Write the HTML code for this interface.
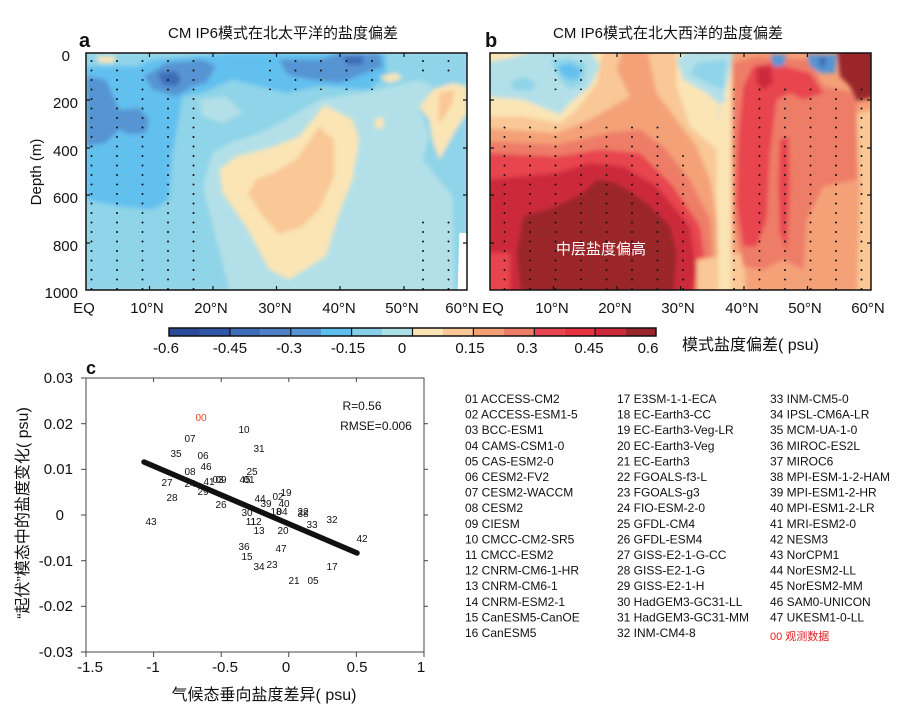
<!DOCTYPE html>
<html><head><meta charset="utf-8"><style>
html,body{margin:0;padding:0;background:#fff}
svg{display:block}
text{font-family:"Liberation Sans","Noto Sans CJK SC",sans-serif;fill:#111}
.t{font-size:15px}
.tk{font-size:15px}
.lg{font-size:12px}
.pt{font-size:10px}
</style></head><body>
<svg width="899" height="720" viewBox="0 0 899 720" xmlns="http://www.w3.org/2000/svg">
<defs>
<filter id="bl" x="-5%" y="-5%" width="110%" height="110%"><feGaussianBlur stdDeviation="6"/></filter>
<clipPath id="ca"><rect x="86" y="53" width="381" height="237"/></clipPath>
<clipPath id="cb"><rect x="490" y="53" width="381" height="237"/></clipPath>
<pattern id="dots" x="0" y="0" width="25.5" height="9.5" patternUnits="userSpaceOnUse">
<circle cx="15" cy="4" r="1" fill="#111"/></pattern>
<pattern id="dotsb" x="5" y="0" width="25.5" height="9.5" patternUnits="userSpaceOnUse">
<circle cx="15" cy="4" r="1" fill="#111"/></pattern>
</defs>

<!-- Panel a -->
<text x="283" y="38" text-anchor="middle" class="t">CM IP6模式在北太平洋的盐度偏差</text>
<text x="79" y="47" style="font-size:20px;font-weight:bold">a</text>
<g clip-path="url(#ca)">
<rect x="86" y="53" width="381" height="237" fill="#b3e0e8"/>
<g transform="translate(86,53) scale(0.33333)">
<g filter="url(#bl)">
<path d="M0,0 L1143,0 L1143,711 L1105,711 L1100,430 L1010,320 L1030,250 L1000,160 L1040,100 L1000,80 L880,110 L700,140 L600,200 L520,240 L430,270 L380,300 L350,400 L430,711 L0,711 Z" fill="#8fd4e8"/>
<path d="M340,140 L420,130 L470,180 L410,210 L350,190 Z" fill="#b3e0e8"/>
<path d="M0,40 L150,40 L200,20 L440,0 L900,0 L900,70 L850,110 L700,100 L600,120 L560,110 L440,80 L350,120 L290,130 L260,300 L250,440 L200,470 L100,460 L0,440 Z" fill="#62c0ef"/>
<path d="M0,70 L60,80 L100,170 L120,170 L160,165 L190,200 L180,240 L130,245 L100,230 L60,270 L0,280 Z" fill="#5794d3"/>
<path d="M175,70 L240,30 L350,20 L390,40 L360,90 L320,100 L270,130 L200,110 Z" fill="#5794d3"/>
<path d="M580,20 L700,20 L760,0 L880,0 L890,40 L840,60 L760,90 L680,80 L620,70 L600,60 Z" fill="#5794d3"/>
<path d="M215,60 L270,55 L285,80 L270,100 L230,95 Z" fill="#3e6cb8"/>
<path d="M770,10 L830,10 L830,35 L785,35 Z" fill="#3e6cb8"/>
<path d="M400,350 L450,310 L550,285 L640,250 L715,155 L800,200 L820,260 L800,380 L760,480 L720,610 L610,680 L550,650 L480,520 L410,420 Z" fill="#fbe5b5"/>
<path d="M485,420 L510,380 L560,360 L630,320 L700,220 L745,260 L745,370 L700,470 L650,520 L580,545 L530,490 Z" fill="#f9c896"/>
<path d="M1000,160 L1040,110 L1100,90 L1143,100 L1143,180 L1110,230 L1060,320 L1040,260 L1030,200 Z" fill="#fbe5b5"/>
<path d="M1060,120 L1105,110 L1100,150 L1070,200 L1055,210 Z" fill="#f9c896"/>
<path d="M880,70 L930,60 L950,75 L910,90 Z" fill="#fbe5b5"/>
<path d="M865,200 L890,190 L895,220 L870,230 Z" fill="#fbe5b5"/>
<path d="M30,10 L90,10 L80,30 L40,28 Z" fill="#fbe5b5"/>
</g>
<path d="M1120,540 L1143,540 L1143,711 L1115,711 Z" fill="#fff"/>
</g>
<rect x="86" y="57" width="130" height="233" fill="url(#dots)"/>
<rect x="220" y="246" width="15" height="44" fill="url(#dots)"/>
<rect x="255" y="57" width="140" height="33" fill="url(#dots)"/>
<rect x="350" y="220" width="20" height="50" fill="url(#dots)"/>
<rect x="400" y="215" width="67" height="75" fill="url(#dots)"/>
<rect x="410" y="57" width="57" height="15" fill="url(#dots)"/>
</g>
<rect x="86" y="53" width="381" height="237" fill="none" stroke="#111" stroke-width="1.5"/>
<g stroke="#111" stroke-width="1.2">
<line x1="149.5" y1="53" x2="149.5" y2="57"/><line x1="213" y1="53" x2="213" y2="57"/><line x1="276.5" y1="53" x2="276.5" y2="57"/><line x1="340" y1="53" x2="340" y2="57"/><line x1="404" y1="53" x2="404" y2="57"/>
<line x1="149.5" y1="290" x2="149.5" y2="286"/><line x1="213" y1="290" x2="213" y2="286"/><line x1="276.5" y1="290" x2="276.5" y2="286"/><line x1="340" y1="290" x2="340" y2="286"/><line x1="404" y1="290" x2="404" y2="286"/>
<line x1="86" y1="100" x2="90" y2="100"/><line x1="86" y1="148" x2="90" y2="148"/><line x1="86" y1="195" x2="90" y2="195"/><line x1="86" y1="243" x2="90" y2="243"/>
<line x1="467" y1="100" x2="463" y2="100"/><line x1="467" y1="148" x2="463" y2="148"/><line x1="467" y1="195" x2="463" y2="195"/><line x1="467" y1="243" x2="463" y2="243"/>
</g>
<g class="tk" text-anchor="end">
<text x="70" y="61">0</text><text x="78" y="108">200</text><text x="78" y="156">400</text><text x="78" y="203">600</text><text x="78" y="251">800</text><text x="78" y="298">1000</text>
</g>
<text transform="translate(41,172) rotate(-90)" text-anchor="middle" class="tk">Depth (m)</text>
<g class="tk" text-anchor="middle">
<text x="84" y="313">EQ</text><text x="147" y="313">10°N</text><text x="211" y="313">20°N</text><text x="275" y="313">30°N</text><text x="339" y="313">40°N</text><text x="402" y="313">50°N</text><text x="462" y="313">60°N</text>
</g>

<!-- Panel b -->
<text x="668" y="38" text-anchor="middle" class="t">CM IP6模式在北大西洋的盐度偏差</text>
<text x="485" y="47" style="font-size:20px;font-weight:bold">b</text>
<g clip-path="url(#cb)">
<rect x="490" y="53" width="381" height="237" fill="#f4a178"/>
<g transform="translate(490,53) scale(0.33333)">
<g filter="url(#bl)">
<rect x="-20" y="-20" width="745" height="760" fill="#fbe5b5"/>
<path d="M-20,190 L100,190 L210,210 L260,170 L320,90 L340,-20 L560,-20 L560,100 L600,220 L680,290 L690,740 L-20,740 Z" fill="#f9c896"/>
<path d="M-20,225 L200,240 L300,200 L420,130 L380,50 L400,-20 L470,-20 L500,120 L560,200 L620,280 L660,380 L680,500 L685,740 L-20,740 Z" fill="#f4a178"/>
<path d="M-20,265 L200,275 L350,240 L450,230 L520,280 L600,380 L660,500 L675,740 L-20,740 Z" fill="#ee7d68"/>
<path d="M-20,300 L200,310 L330,290 L450,300 L550,400 L630,520 L660,740 L-20,740 Z" fill="#e84550"/>
<path d="M-20,380 L200,360 L300,330 L400,340 L500,400 L600,520 L620,650 L600,740 L60,740 L60,600 L-20,600 Z" fill="#cc2a3a"/>
<path d="M80,600 L100,490 L200,460 L280,420 L320,380 L380,390 L470,450 L540,520 L560,600 L550,740 L100,740 L90,690 Z" fill="#9a262b"/>
<path d="M-20,30 L60,15 L150,-10 L300,-10 L330,40 L300,100 L240,150 L210,185 L100,140 L-20,130 Z" fill="#b3e0e8"/>
<path d="M60,90 L100,70 L140,90 L120,115 L70,110 Z" fill="#8fd4e8"/>
<path d="M180,20 L230,15 L290,30 L280,90 L240,110 L210,80 Z" fill="#8fd4e8"/>
<path d="M200,40 L240,30 L275,50 L260,80 L225,75 Z" fill="#62c0ef"/>
<path d="M560,20 L600,-10 L730,-10 L720,60 L705,120 L700,310 L690,320 L685,150 L650,120 L580,80 Z" fill="#b3e0e8"/>
<path d="M620,30 L710,20 L700,110 L650,90 L600,60 Z" fill="#8fd4e8"/>
<path d="M620,620 L760,600 L770,740 L620,740 Z" fill="#f9c896"/>
<path d="M690,150 L712,150 L722,300 L722,740 L688,740 L680,400 Z" fill="#fbe5b5"/>
<path d="M730,30 L800,10 L960,20 L1000,100 L1100,120 L1100,380 L1000,400 L950,500 L940,650 L880,620 L820,650 L760,640 L730,500 L725,300 Z" fill="#ee7d68"/>
<path d="M760,100 L790,40 L850,30 L960,60 L1000,120 L940,140 L900,120 L860,140 L840,300 L830,500 L800,580 L760,580 L740,450 L745,250 Z" fill="#e84550"/>
<path d="M870,260 L895,250 L900,400 L890,590 L870,540 L865,400 Z" fill="#e84550"/>
<path d="M800,40 L840,40 L850,90 L820,110 L800,90 Z" fill="#cc2a3a"/>
<path d="M1100,180 L1160,170 L1160,740 L1100,740 L1110,400 Z" fill="#f9c896"/>
<path d="M1040,-10 L1160,-10 L1160,130 L1100,145 L1080,100 L1050,70 Z" fill="#9a262b"/>
<path d="M840,5 L890,5 L880,40 L850,40 Z" fill="#5794d3"/>
<path d="M950,5 L1040,5 L1035,60 L990,60 L960,40 Z" fill="#5794d3"/>
<path d="M985,15 L1010,15 L1005,40 L990,40 Z" fill="#3e6cb8"/>
</g>
</g>
<rect x="490" y="123" width="172" height="167" fill="url(#dotsb)"/>
<rect x="672" y="150" width="20" height="140" fill="url(#dotsb)"/>
<rect x="550" y="57" width="40" height="33" fill="url(#dotsb)"/>
<rect x="725" y="85" width="146" height="205" fill="url(#dotsb)"/>
</g>
<rect x="490" y="53" width="381" height="237" fill="none" stroke="#111" stroke-width="1.5"/>
<g stroke="#111" stroke-width="1.2">
<line x1="553.5" y1="53" x2="553.5" y2="57"/><line x1="617" y1="53" x2="617" y2="57"/><line x1="680.5" y1="53" x2="680.5" y2="57"/><line x1="744" y1="53" x2="744" y2="57"/><line x1="807.5" y1="53" x2="807.5" y2="57"/>
<line x1="553.5" y1="290" x2="553.5" y2="286"/><line x1="617" y1="290" x2="617" y2="286"/><line x1="680.5" y1="290" x2="680.5" y2="286"/><line x1="744" y1="290" x2="744" y2="286"/><line x1="807.5" y1="290" x2="807.5" y2="286"/>
<line x1="490" y1="100" x2="494" y2="100"/><line x1="490" y1="148" x2="494" y2="148"/><line x1="490" y1="195" x2="494" y2="195"/><line x1="490" y1="243" x2="494" y2="243"/>
<line x1="871" y1="100" x2="867" y2="100"/><line x1="871" y1="148" x2="867" y2="148"/><line x1="871" y1="195" x2="867" y2="195"/><line x1="871" y1="243" x2="867" y2="243"/>
</g>
<text x="601" y="254" text-anchor="middle" style="font-size:15px;fill:#fff">中层盐度偏高</text>
<g class="tk" text-anchor="middle">
<text x="493" y="313">EQ</text><text x="552" y="313">10°N</text><text x="615" y="313">20°N</text><text x="678" y="313">30°N</text><text x="742" y="313">40°N</text><text x="805" y="313">50°N</text><text x="868" y="313">60°N</text>
</g>

<!-- Colorbar -->
<g>
<rect x="169" y="328" width="30.5" height="8" fill="#2a4b9b"/>
<rect x="199.4" y="328" width="30.5" height="8" fill="#2f57a8"/>
<rect x="229.9" y="328" width="30.5" height="8" fill="#3e6cb8"/>
<rect x="260.3" y="328" width="30.5" height="8" fill="#4f7fc3"/>
<rect x="290.8" y="328" width="30.5" height="8" fill="#5794d3"/>
<rect x="321.2" y="328" width="30.5" height="8" fill="#5cc0ee"/>
<rect x="351.6" y="328" width="30.5" height="8" fill="#86cfe6"/>
<rect x="382.1" y="328" width="30.5" height="8" fill="#ace0e8"/>
<rect x="412.5" y="328" width="30.5" height="8" fill="#fbe5b5"/>
<rect x="442.9" y="328" width="30.5" height="8" fill="#f9c896"/>
<rect x="473.4" y="328" width="30.5" height="8" fill="#f4a178"/>
<rect x="503.8" y="328" width="30.5" height="8" fill="#ee7d68"/>
<rect x="534.3" y="328" width="30.5" height="8" fill="#e84550"/>
<rect x="564.7" y="328" width="30.5" height="8" fill="#e6333f"/>
<rect x="595.1" y="328" width="30.5" height="8" fill="#cc2a3a"/>
<rect x="625.6" y="328" width="30.5" height="8" fill="#9a262b"/>
<rect x="169" y="328" width="487" height="8" fill="none" stroke="#111" stroke-width="1.5"/>
<g stroke="#111" stroke-width="1.2">
<line x1="229.9" y1="328" x2="229.9" y2="336"/><line x1="290.8" y1="328" x2="290.8" y2="336"/><line x1="351.6" y1="328" x2="351.6" y2="336"/><line x1="412.5" y1="328" x2="412.5" y2="336"/><line x1="473.4" y1="328" x2="473.4" y2="336"/><line x1="534.3" y1="328" x2="534.3" y2="336"/><line x1="595.1" y1="328" x2="595.1" y2="336"/>
</g>
<g class="tk" text-anchor="middle">
<text x="166" y="353">-0.6</text><text x="230" y="353">-0.45</text><text x="289" y="353">-0.3</text><text x="348" y="353">-0.15</text><text x="402" y="353">0</text><text x="470" y="353">0.15</text><text x="527" y="353">0.3</text><text x="589" y="353">0.45</text><text x="648" y="353">0.6</text>
</g>
<text x="682" y="350" style="font-size:16px">模式盐度偏差( psu)</text>
</g>

<!-- Panel c -->
<text x="86" y="374" style="font-size:18px;font-weight:bold">c</text>
<rect x="86" y="378" width="338" height="274" fill="none" stroke="#444" stroke-width="1"/>
<g stroke="#444" stroke-width="1">
<line x1="153.6" y1="378" x2="153.6" y2="382"/><line x1="221.2" y1="378" x2="221.2" y2="382"/><line x1="288.8" y1="378" x2="288.8" y2="382"/><line x1="356.4" y1="378" x2="356.4" y2="382"/>
<line x1="153.6" y1="652" x2="153.6" y2="657"/><line x1="221.2" y1="652" x2="221.2" y2="657"/><line x1="288.8" y1="652" x2="288.8" y2="657"/><line x1="356.4" y1="652" x2="356.4" y2="657"/><line x1="86" y1="652" x2="86" y2="657"/><line x1="424" y1="652" x2="424" y2="657"/>
<line x1="81" y1="378" x2="86" y2="378"/><line x1="81" y1="423.7" x2="86" y2="423.7"/><line x1="81" y1="469.3" x2="86" y2="469.3"/><line x1="81" y1="515" x2="86" y2="515"/><line x1="81" y1="560.7" x2="86" y2="560.7"/><line x1="81" y1="606.3" x2="86" y2="606.3"/><line x1="81" y1="652" x2="86" y2="652"/>
<line x1="424" y1="423.7" x2="428" y2="423.7"/><line x1="424" y1="469.3" x2="428" y2="469.3"/><line x1="424" y1="515" x2="428" y2="515"/><line x1="424" y1="560.7" x2="428" y2="560.7"/><line x1="424" y1="606.3" x2="428" y2="606.3"/>
</g>
<g class="tk" text-anchor="end">
<text x="73" y="383">0.03</text><text x="73" y="429">0.02</text><text x="73" y="474">0.01</text><text x="64" y="520">0</text><text x="73" y="566">-0.01</text><text x="73" y="611">-0.02</text><text x="73" y="657">-0.03</text>
</g>
<g class="tk" text-anchor="middle">
<text x="90" y="672">-1.5</text><text x="153" y="672">-1</text><text x="225" y="672">-0.5</text><text x="286" y="672">0</text><text x="357" y="672">0.5</text><text x="421" y="672">1</text>
</g>
<text x="264" y="700" text-anchor="middle" style="font-size:16px">气候态垂向盐度差异( psu)</text>
<text transform="translate(28,513) rotate(-90)" text-anchor="middle" style="font-size:16px">“起伏”模态中的盐度变化( psu)</text>
<line x1="144" y1="462" x2="357" y2="553" stroke="#111" stroke-width="5.5" stroke-linecap="round"/>
<text x="362" y="410" text-anchor="middle" style="font-size:12px">R=0.56</text>
<text x="376" y="430" text-anchor="middle" style="font-size:12px">RMSE=0.006</text>
<g class="pt" text-anchor="middle">
<text x="201" y="421" style="fill:#e8452c">00</text>
<text x="244" y="433">10</text><text x="190" y="442">07</text><text x="259" y="452">31</text><text x="176" y="457">35</text><text x="203" y="459">06</text><text x="206" y="470">46</text><text x="252" y="475">25</text><text x="190" y="475">08</text>
<text x="209" y="485">41</text><text x="218" y="483">03</text><text x="221" y="483">09</text><text x="245" y="483">45</text><text x="249" y="483">01</text>
<text x="167" y="486">27</text><text x="190" y="487">24</text><text x="172" y="501">28</text><text x="203" y="495">29</text><text x="221" y="508">26</text>
<text x="260" y="502">44</text><text x="278" y="500">02</text><text x="286" y="496">19</text><text x="266" y="507">39</text><text x="284" y="507">40</text><text x="276" y="515">18</text><text x="282" y="515">04</text>
<text x="247" y="516">30</text><text x="303" y="515">22</text><text x="303" y="517">38</text><text x="251" y="525">11</text><text x="256" y="525">12</text><text x="332" y="523">32</text><text x="312" y="528">33</text>
<text x="259" y="534">13</text><text x="283" y="534">20</text><text x="362" y="542">42</text><text x="151" y="525">43</text><text x="244" y="550">36</text><text x="281" y="552">47</text><text x="247" y="560">15</text>
<text x="259" y="570">34</text><text x="272" y="568">23</text><text x="332" y="570">17</text><text x="294" y="584">21</text><text x="313" y="584">05</text>
</g>

<!-- Legend -->
<g class="lg">
<text x="465" y="403">01  ACCESS-CM2</text>
<text x="465" y="418.6">02  ACCESS-ESM1-5</text>
<text x="465" y="434.2">03  BCC-ESM1</text>
<text x="465" y="449.8">04  CAMS-CSM1-0</text>
<text x="465" y="465.4">05  CAS-ESM2-0</text>
<text x="465" y="481">06  CESM2-FV2</text>
<text x="465" y="496.6">07  CESM2-WACCM</text>
<text x="465" y="512.2">08  CESM2</text>
<text x="465" y="527.8">09  CIESM</text>
<text x="465" y="543.4">10  CMCC-CM2-SR5</text>
<text x="465" y="559">11  CMCC-ESM2</text>
<text x="465" y="574.6">12  CNRM-CM6-1-HR</text>
<text x="465" y="590.2">13  CNRM-CM6-1</text>
<text x="465" y="605.8">14  CNRM-ESM2-1</text>
<text x="465" y="621.4">15  CanESM5-CanOE</text>
<text x="465" y="637">16  CanESM5</text>
<text x="617" y="403">17  E3SM-1-1-ECA</text>
<text x="617" y="418.6">18  EC-Earth3-CC</text>
<text x="617" y="434.2">19  EC-Earth3-Veg-LR</text>
<text x="617" y="449.8">20  EC-Earth3-Veg</text>
<text x="617" y="465.4">21  EC-Earth3</text>
<text x="617" y="481">22  FGOALS-f3-L</text>
<text x="617" y="496.6">23  FGOALS-g3</text>
<text x="617" y="512.2">24  FIO-ESM-2-0</text>
<text x="617" y="527.8">25  GFDL-CM4</text>
<text x="617" y="543.4">26  GFDL-ESM4</text>
<text x="617" y="559">27  GISS-E2-1-G-CC</text>
<text x="617" y="574.6">28  GISS-E2-1-G</text>
<text x="617" y="590.2">29  GISS-E2-1-H</text>
<text x="617" y="605.8">30  HadGEM3-GC31-LL</text>
<text x="617" y="621.4">31  HadGEM3-GC31-MM</text>
<text x="617" y="637">32  INM-CM4-8</text>
<text x="770" y="403">33  INM-CM5-0</text>
<text x="770" y="418.6">34  IPSL-CM6A-LR</text>
<text x="770" y="434.2">35  MCM-UA-1-0</text>
<text x="770" y="449.8">36  MIROC-ES2L</text>
<text x="770" y="465.4">37  MIROC6</text>
<text x="770" y="481">38  MPI-ESM-1-2-HAM</text>
<text x="770" y="496.6">39  MPI-ESM1-2-HR</text>
<text x="770" y="512.2">40  MPI-ESM1-2-LR</text>
<text x="770" y="527.8">41  MRI-ESM2-0</text>
<text x="770" y="543.4">42  NESM3</text>
<text x="770" y="559">43  NorCPM1</text>
<text x="770" y="574.6">44  NorESM2-LL</text>
<text x="770" y="590.2">45  NorESM2-MM</text>
<text x="770" y="605.8">46  SAM0-UNICON</text>
<text x="770" y="621.4">47  UKESM1-0-LL</text>
<text x="770" y="640" style="fill:#e02020;font-size:11px">00 观测数据</text>
</g>
</svg>
</body></html>
